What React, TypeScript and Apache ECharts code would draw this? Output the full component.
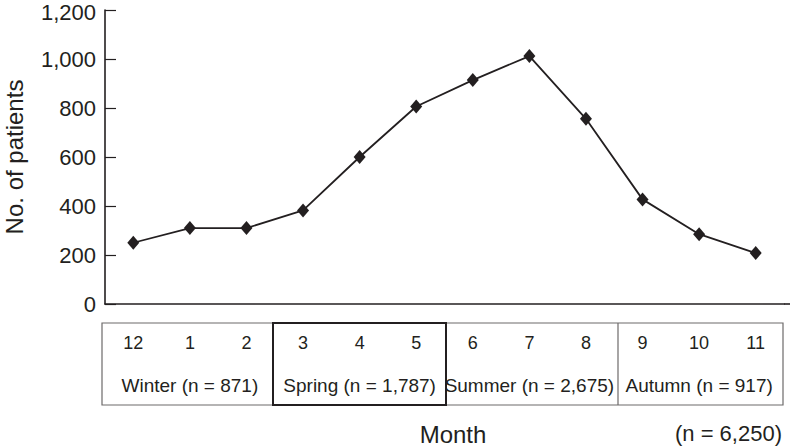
import React, { useEffect, useRef } from "react";
import * as echarts from "echarts";

const months = ["12", "1", "2", "3", "4", "5", "6", "7", "8", "9", "10", "11"];
const patients = [250, 310, 310, 382, 600, 806, 914, 1012, 756, 427, 285, 208];
const seasons = ["Winter (n = 871)", "Spring (n = 1,787)", "Summer (n = 2,675)", "Autumn (n = 917)"];
const yTicks = [0, 200, 400, 600, 800, 1000, 1200];
const totalLabel = "(n = 6,250)";
const xTitle = "Month";
const yTitle = "No. of patients";

const INK = "#231f20";
const FONT = "'Liberation Sans', Arial, sans-serif";

export default function App() {
  const ref = useRef<HTMLDivElement>(null);
  useEffect(() => {
    if (!ref.current) return;
    const chart = echarts.init(ref.current, undefined, { renderer: "svg" });
    const yMax = yTicks[yTicks.length - 1];
    const fmt = (v: number) => (v === yMax ? `{t|${v.toLocaleString("en-US")}}` : v.toLocaleString("en-US"));
    chart.setOption({
      animation: false,
      backgroundColor: "#ffffff",
      textStyle: { fontFamily: FONT, color: INK },
      grid: { left: 105, right: 8, top: 10, bottom: 144, containLabel: false, outerBoundsMode: "none" },
      xAxis: [
        {
          type: "category",
          data: months,
          boundaryGap: true,
          axisLine: { lineStyle: { color: INK, width: 1.6 } },
          axisTick: { inside: true, length: 11, lineStyle: { color: INK, width: 1.2 } },
          axisLabel: { color: INK, fontSize: 18, margin: 30, fontFamily: FONT, interval: 0 },
          splitLine: { show: false },
        },
        {
          type: "category",
          data: seasons,
          position: "bottom",
          offset: 0,
          boundaryGap: true,
          axisLine: { show: false },
          axisTick: { show: false },
          axisLabel: { color: INK, fontSize: 19, margin: 72, fontFamily: FONT, interval: 0, hideOverlap: false },
          splitLine: { show: false },
        },
      ],
      yAxis: {
        type: "value",
        min: yTicks[0],
        max: yMax,
        interval: 200,
        name: yTitle,
        nameLocation: "middle",
        nameRotate: 90,
        nameGap: 79,
        nameTextStyle: { color: INK, fontSize: 24, fontFamily: FONT },
        axisLine: { show: true, lineStyle: { color: INK, width: 1.6 } },
        axisTick: { show: true, inside: true, length: 11, lineStyle: { color: INK, width: 1.2 } },
        axisLabel: {
          color: INK,
          fontSize: 22,
          margin: 9,
          fontFamily: FONT,
          formatter: fmt,
          rich: { t: { fontSize: 22, fontFamily: FONT, color: INK, padding: [5, 0, 0, 0] } },
        },
        splitLine: { show: false },
      },
      series: [
        {
          type: "line",
          data: patients,
          xAxisIndex: 0,
          symbol: "diamond",
          symbolSize: [12, 14],
          lineStyle: { color: INK, width: 1.8 },
          itemStyle: { color: INK },
        },
      ],
      graphic: [
        { type: "line", shape: { x1: 784, y1: 304, x2: 790, y2: 304 }, style: { stroke: INK, lineWidth: 1.6 } },
        { type: "rect", shape: { x: 102, y: 323, width: 681, height: 82 }, style: { fill: "none", stroke: "#6d6a6a", lineWidth: 1.2 } },
        { type: "line", shape: { x1: 618, y1: 323, x2: 618, y2: 405 }, style: { stroke: "#6d6a6a", lineWidth: 1.2 } },
        { type: "rect", shape: { x: 273, y: 323, width: 173, height: 82 }, style: { fill: "none", stroke: INK, lineWidth: 2 }, z: 10 },
        { type: "text", x: 782, y: 433, style: { text: totalLabel, fill: INK, font: `22px ${FONT}`, textAlign: "right", textVerticalAlign: "middle" } },
        { type: "text", x: 453, y: 434, style: { text: xTitle, fill: INK, font: `24px ${FONT}`, textAlign: "center", textVerticalAlign: "middle" } },
      ],
    });
    return () => chart.dispose();
  }, []);
  return <div ref={ref} style={{ width: 792, height: 448, position: "absolute", left: 0, top: 0 }} />;
}
